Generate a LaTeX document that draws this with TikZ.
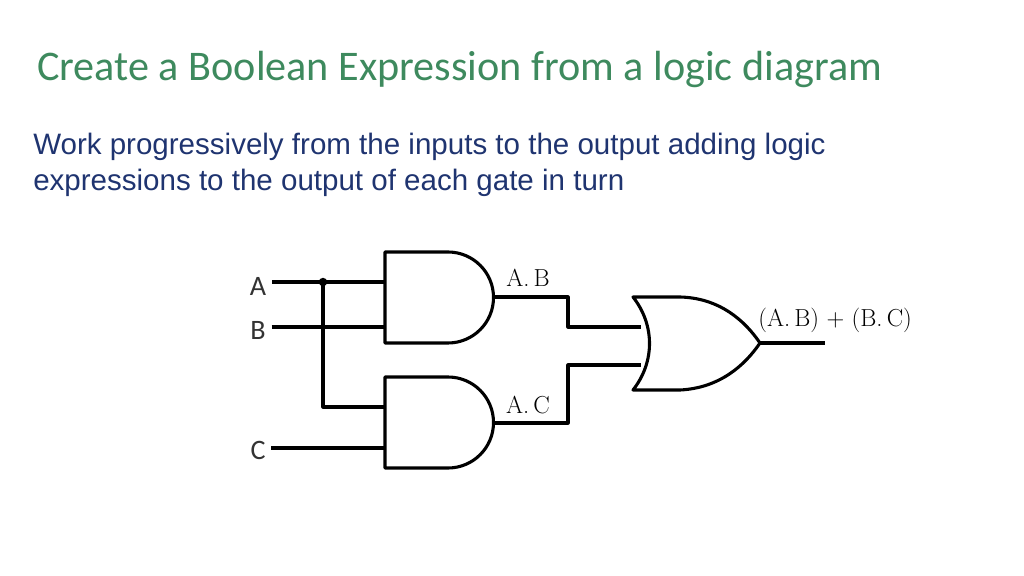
\documentclass[tikz,border=0pt]{standalone}
\usepackage{fontspec}
\setmainfont{Carlito}
\newfontfamily\bodyfont{Liberation Sans}
\newfontfamily\lmfont{Latin Modern Roman}
\usetikzlibrary{positioning}
\definecolor{titlegreen}{HTML}{3E8A5E}
\definecolor{bodyblue}{HTML}{1F3470}
\tikzstyle{wire} = [line width=2.2pt, line join=round]
\tikzstyle{gatelabel} = [font=\lmfont\fontsize{17.5}{19}\selectfont, inner sep=0pt]
\tikzstyle{inlabel} = [font=\fontsize{20}{22}\selectfont, inner sep=0pt, text=black!80]
\begin{document}
\begin{tikzpicture}[x=0.025cm, y=-0.025cm]
    \useasboundingbox (0,0) rectangle (1024,576);
    % heading and text
    \node (title) [anchor=base west, inner sep=0pt, text=titlegreen,
        font=\fontsize{30}{33}\selectfont] at (37,81) {Create a Boolean Expression from a logic diagram};
    \node (text) [anchor=north west, inner sep=0pt, text=bodyblue, align=left,
        font=\bodyfont\fontsize{21}{25.5}\selectfont] at (33,133)
        {Work progressively from the inputs to the output adding logic\\expressions to the output of each gate in turn};
    % input letters
    \node (A) [inlabel] at (258,286) {A};
    \node (B) [inlabel] at (258,330) {B};
    \node (C) [inlabel] at (258,450) {C};
    % gate pins
    \coordinate (and1a) at (385,282);
    \coordinate (and1b) at (385,327);
    \coordinate (and1o) at (493,297);
    \coordinate (and2a) at (385,407);
    \coordinate (and2b) at (385,448);
    \coordinate (and2o) at (493,423);
    \coordinate (ora) at (641,327);
    \coordinate (orb) at (641,365);
    \coordinate (oro) at (760,343);
    \coordinate (out) at (825,343);
    \coordinate (jn) at (323,282);
    % AND gates
    \foreach \y in {252,377}
        \draw [wire] (385,\y) -- (448,\y) arc[start angle=-90, end angle=90, radius=45.5] -- (385,\y+91) -- cycle;
    % OR gate
    \draw [wire] (633,297) .. controls (655,325) and (655,362) .. (633,390)
        -- (680,390) .. controls (720,388) and (745,365) .. (oro)
        .. controls (745,321) and (720,298) .. (680,297) -- cycle;
    % wires
    \draw [wire] (A.east) ++(4pt,0) coordinate (Ae) (Ae |- jn) -- (and1a);
    \draw [wire] (B.east) ++(4pt,0) coordinate (Be) (Be |- and1b) -- (and1b);
    \draw [wire] (C.east) ++(4pt,0) coordinate (Ce) (Ce |- and2b) -- (and2b);
    \draw [wire] (jn) |- (and2a);
    \fill (jn) circle (3pt);
    \draw [wire] (and1o) -- (568,297) |- (ora);
    \draw [wire] (and2o) -- (568,423) |- (orb);
    \draw [wire] (oro) -- (out);
    % expressions
    \node (ab) [gatelabel] at (528,278) {A.\,B};
    \node (ac) [gatelabel] at (528,405) {A.\,C};
    \node (res) [gatelabel, anchor=west] at (758,320) {(A.\,B) + (B.\,C)};
\end{tikzpicture}
\end{document}
